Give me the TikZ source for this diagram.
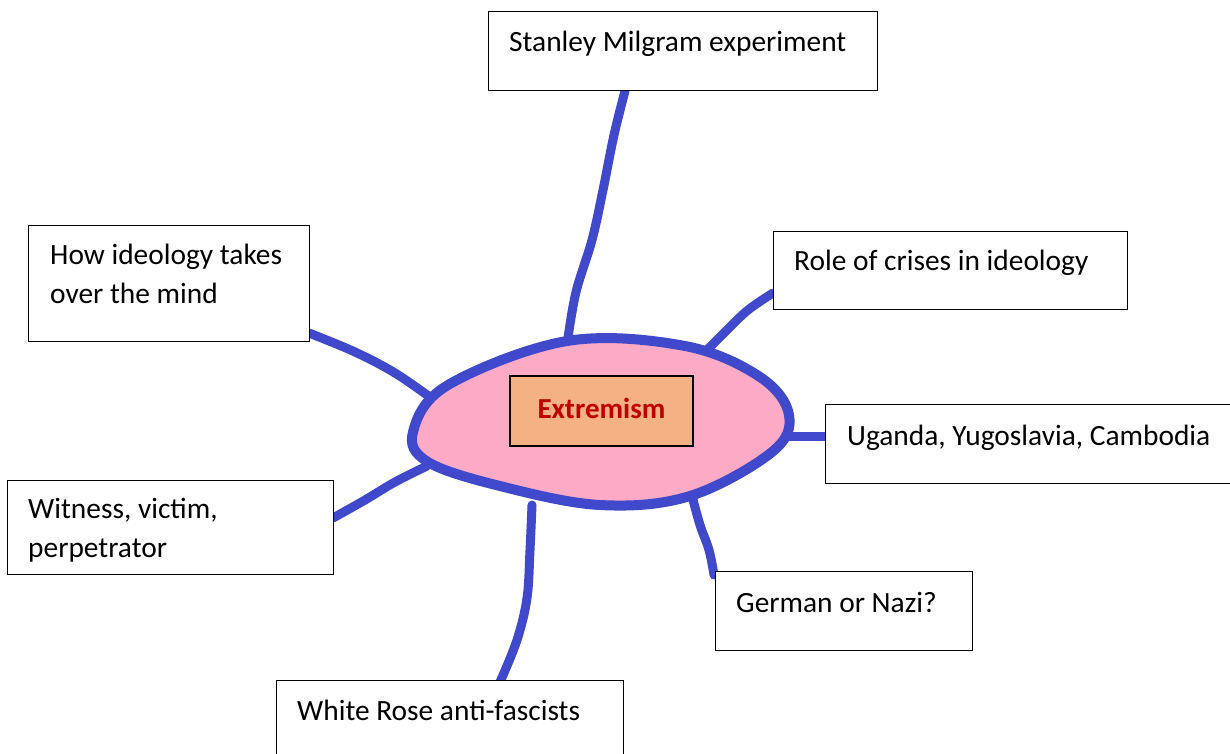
\documentclass[tikz,border=0pt]{standalone}
\usepackage{fontspec}
\setmainfont{Carlito}
\definecolor{mapblue}{RGB}{64,72,204}
\definecolor{blobpink}{RGB}{252,170,198}
\definecolor{centreorange}{RGB}{244,177,131}
\definecolor{centrered}{RGB}{192,0,0}
\begin{document}
\begin{tikzpicture}[x=1pt,y=-1pt,
  topicbox/.style={draw=black,line width=1.3pt,fill=white,anchor=north west,inner sep=0pt},
  topictext/.style={anchor=base west,inner sep=0pt,align=left,font=\fontsize{29.4}{39}\selectfont},
  link/.style={draw=mapblue,line width=9pt,line cap=round,line join=round},
  blobline/.style={draw=mapblue,line width=10pt,fill=blobpink,line join=round}]
\useasboundingbox (0,0) rectangle (1230,753);

% connector end points on the central blob
\coordinate (eS) at (568,338);
\coordinate (eH) at (434,400);
\coordinate (eR) at (707,350);
\coordinate (eU) at (790,436);
\coordinate (eW) at (427,466);
\coordinate (eG) at (692,496);
\coordinate (eWR) at (532,505);

% box attachment points
\coordinate (sS) at (625,91);
\coordinate (sH) at (309,333);
\coordinate (sR) at (773,293);
\coordinate (sU) at (826,436);
\coordinate (sW) at (333,518);
\coordinate (sG) at (714,575);
\coordinate (sWR) at (500,682);

% connectors
\draw[link] plot[smooth,tension=0.6] coordinates {(sS) (614,135) (603,190) (592,240) (576,292) (eS)};
\draw[link] plot[smooth,tension=0.6] coordinates {(sH) (355,352) (395,373) (eH)};
\draw[link] plot[smooth,tension=0.6] coordinates {(sR) (748,310) (727,330) (eR)};
\draw[link] (eU) -- (sU);
\draw[link] plot[smooth,tension=0.6] coordinates {(sW) (365,500) (395,482) (eW)};
\draw[link] plot[smooth,tension=0.6] coordinates {(eG) (700,525) (709,550) (sG)};
\draw[link] plot[smooth,tension=0.6] coordinates {(eWR) (530,550) (527,598) (517,640) (sWR)};

% central blob
\draw[blobline] plot[smooth cycle,tension=0.6] coordinates {
  (413,432) (448,385) (567,341) (685,346) (760,377) (789,415)
  (772,452) (690,496) (600,505) (500,486) (428,462)};

% centre box
\node[draw=black,line width=1.3pt,fill=centreorange,minimum width=183pt,minimum height=70pt,inner sep=0pt,
  font=\fontsize{29}{35}\selectfont\bfseries,text=centrered] (centre) at (601.5,411) {\raisebox{5pt}{Extremism}};

% topic boxes
\node[topicbox,minimum width=389pt,minimum height=79pt] (bS) at (488,11) {};
\node[topictext] (tS) at (509,51) {Stanley Milgram experiment};

\node[topicbox,minimum width=281pt,minimum height=116pt] (bH) at (28,225) {};
\node[topictext] (tH) at (50,303) {How ideology takes\\over the mind};

\node[topicbox,minimum width=354pt,minimum height=78pt] (bR) at (773,231) {};
\node[topictext] (tR) at (794,270) {Role of crises in ideology};

\node[topicbox,minimum width=410pt,minimum height=79pt] (bU) at (825,404) {};
\node[topictext] (tU) at (847,445) {Uganda, Yugoslavia, Cambodia};

\node[topicbox,minimum width=326pt,minimum height=94pt] (bW) at (7,480) {};
\node[topictext] (tW) at (28,557) {Witness, victim,\\perpetrator};

\node[topicbox,minimum width=257pt,minimum height=79pt] (bG) at (715,571) {};
\node[topictext] (tG) at (736,612) {German or Nazi?};

\node[topicbox,minimum width=347pt,minimum height=90pt] (bWR) at (276,680) {};
\node[topictext] (tWR) at (297,720) {White Rose anti-fascists};
\end{tikzpicture}
\end{document}
